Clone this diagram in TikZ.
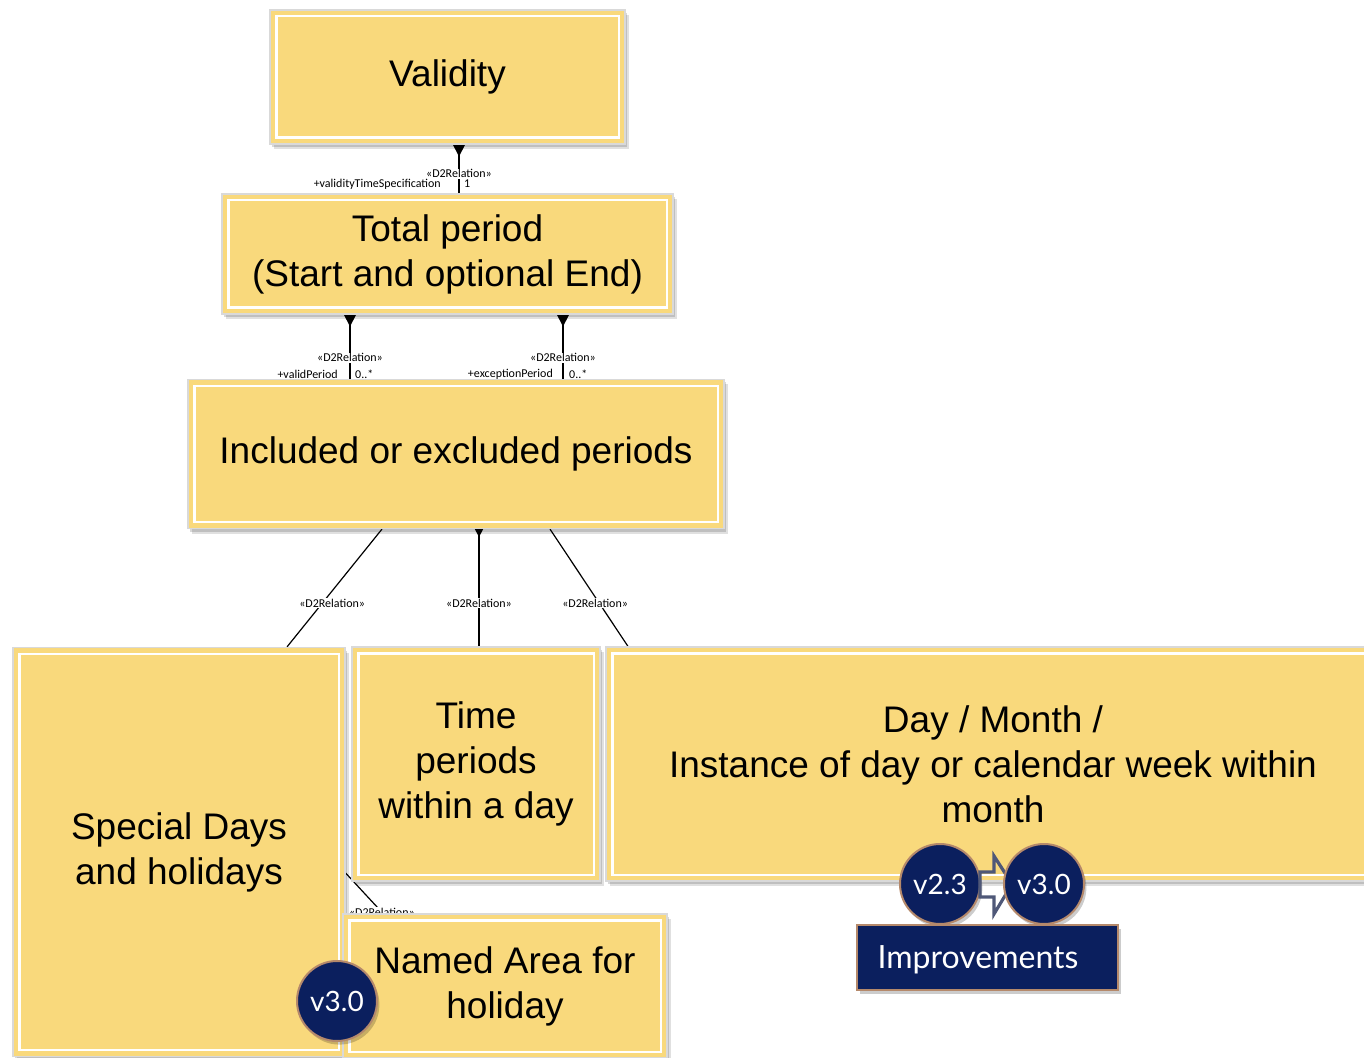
\documentclass[tikz,border=0pt]{standalone}
\usepackage{fontspec}
\setmainfont{Liberation Sans}
\newfontfamily\relfont{Carlito}
\newfontfamily\badgefont{Lato}
\usetikzlibrary{arrows.meta,shadows,calc}
\definecolor{boxy}{HTML}{F9D97C}
\definecolor{navy}{HTML}{0B1F5E}
\definecolor{badgeedge}{HTML}{B5896B}
\definecolor{arrowedge}{HTML}{4F5878}
\pgfdeclarelayer{background}
\pgfsetlayers{background,main}
\begin{document}
\begin{tikzpicture}[x=0.5pt,y=-0.5pt,
  ubox/.style={rectangle, fill=boxy, draw=black!15, line width=0.6pt, inner sep=0pt,
    align=center, font=\fontsize{18.5}{22.5}\selectfont,
    preaction={fill=black, opacity=0.12, transform canvas={xshift=2pt, yshift=-2.5pt}},
    preaction={fill=black, opacity=0.15, transform canvas={xshift=1.2pt, yshift=-1.5pt}},
    path picture={\draw[white,line width=1.1pt]
      ([xshift=3.2pt,yshift=-3.2pt]path picture bounding box.north west) rectangle
      ([xshift=-3.2pt,yshift=3.2pt]path picture bounding box.south east);}},
  rel/.style={draw=black, line width=0.6pt},
  tip/.style={{Triangle[reversed,length=6pt,width=6pt]}-},
  smalltip/.style={{Triangle[reversed,length=4pt,width=4pt]}-},
  rlab/.style={font=\relfont\fontsize{6}{7}\selectfont, inner sep=0.4pt},
  rlabw/.style={rlab, fill=white},
  badge/.style={circle, fill=navy, draw=badgeedge, line width=1pt, minimum size=40pt,
    inner sep=0pt, text=white, font=\badgefont\fontsize{14}{16}\selectfont,
    preaction={fill=black, opacity=0.2, transform canvas={xshift=1.2pt, yshift=-1.8pt}}},
  banner/.style={rectangle, fill=navy, draw=badgeedge, line width=1pt, inner sep=0pt,
    preaction={fill=black, opacity=0.2, transform canvas={xshift=1.5pt, yshift=-2pt}}}
]
\useasboundingbox (0,0) rectangle (1364,1058);

% boxes
\node[ubox, minimum width=177.5pt, minimum height=67pt] (validity) at (447.5,77) {Validity};
\node[ubox, minimum width=225.5pt, minimum height=60pt] (total) at (447.5,254)
  {Total period\\(Start and optional End)};
\node[ubox, minimum width=268pt, minimum height=74.5pt] (incl) at (456,454)
  {Included or excluded periods};
\node[ubox, minimum width=166pt, minimum height=204.5pt] (special) at (179,852)
  {Special Days\\and holidays};
\node[ubox, minimum width=124pt, minimum height=117pt] (timep) at (476,764)
  {Time\\periods\\within a day};
\node[ubox, minimum width=387pt, minimum height=117pt] (daymonth) at (993,764)
  {Day / Month /\\Instance of day or calendar week within\\month};
\node[ubox, minimum width=162pt, minimum height=72pt] (named) at (505,986)
  {Named Area for\\holiday};

% connectors
\begin{pgfonlayer}{background}
  \coordinate (v1) at ($(validity.south)+(11.5,0)$);
  \draw[rel, tip] (v1) -- (v1 |- total.north)
    node[rlabw, pos=0.6] {«D2Relation»};
  \node[rlab, anchor=east] (vrole) at (442,184) {+validityTimeSpecification};
  \node[rlab, anchor=west] (vmult) at (463,184) {1};

  \coordinate (t1) at ($(total.south)+(-97.5,0)$);
  \coordinate (t2) at ($(total.south)+(115.5,0)$);
  \draw[rel, tip] (t1) -- (t1 |- incl.north)
    node[rlabw, pos=0.67] {«D2Relation»};
  \draw[rel, tip] (t2) -- (t2 |- incl.north)
    node[rlabw, pos=0.67] {«D2Relation»};
  \node[rlab, anchor=east] (r1) at (339,374) {+validPeriod};
  \node[rlab, anchor=west] (m1) at (354,374) {0..*};
  \node[rlab, anchor=east] (r2) at (554,374) {+exceptionPeriod};
  \node[rlab, anchor=west] (m2) at (568,374) {0..*};

  \coordinate (i1) at ($(incl.south)+(-74,0)$);
  \coordinate (i2) at ($(incl.south)+(23,0)$);
  \coordinate (i3) at ($(incl.south)+(94,0)$);
  \coordinate (s1) at ($(special.north)+(108,0)$);
  \coordinate (d1) at ($(daymonth.north)+(-365,0)$);
  \draw[rel] (i1) -- (s1) node[rlabw, pos=0.63, xshift=5pt] {«D2Relation»};
  \draw[rel, smalltip] (i2) -- (i2 |- timep.north) node[rlabw, pos=0.63] {«D2Relation»};
  \draw[rel] (i3) -- (d1) node[rlabw, pos=0.63, xshift=-2pt] {«D2Relation»};

  \coordinate (s2) at ($(special.east)+(0,21)$);
  \coordinate (n1) at ($(named.north)+(-122,0)$);
  \draw[rel] (s2) -- (n1) node[rlabw, pos=0.97] {«D2Relation»};
\end{pgfonlayer}

% version badges
\node[badge] (v23) at (940,884) {v2.3};
\draw[arrowedge, line width=1.6pt, line join=miter]
  (980,872) -- (994,872) -- (994,856) -- (1012,884) -- (994,914) -- (994,897) -- (980,897) -- cycle;
\node[badge] (v30) at (1044,884) {v3.0};
\node[banner, minimum width=130.5pt, minimum height=32.5pt] (impr) at (987.5,957.5) {};
\node[text=white, font=\badgefont\fontsize{16}{18}\selectfont, inner sep=0pt] (imprtext) at (978,960) {Improvements};
\node[badge] (v30b) at (337,1001) {v3.0};
\end{tikzpicture}
\end{document}
